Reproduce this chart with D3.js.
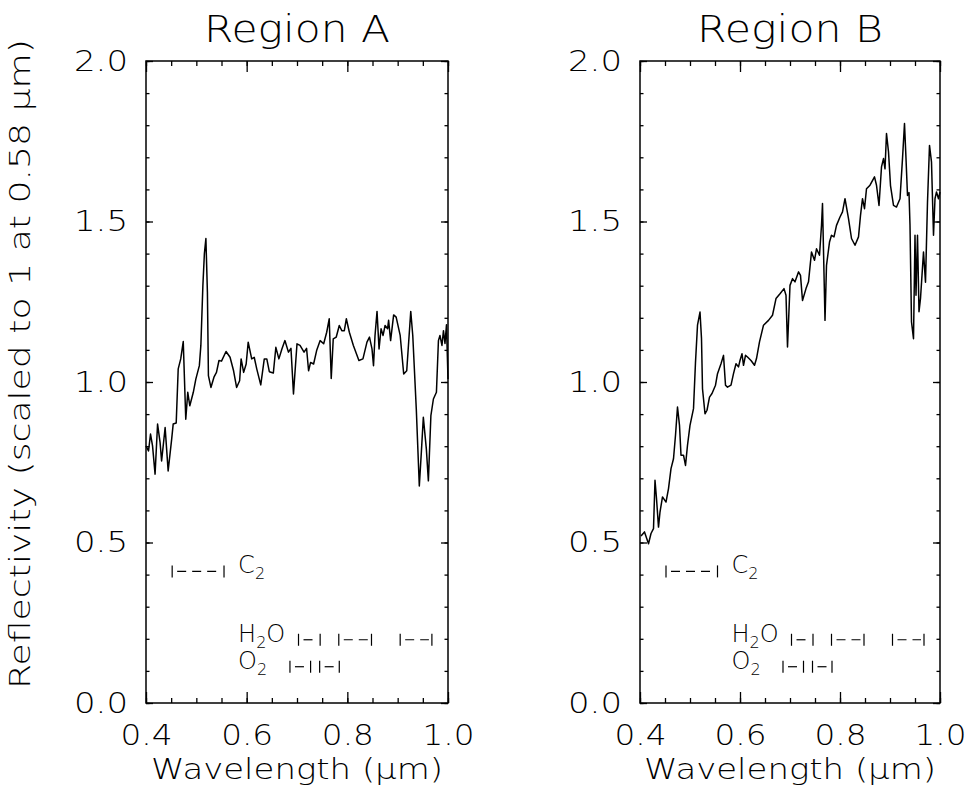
<!DOCTYPE html>
<html>
<head>
<meta charset="utf-8">
<script src="https://cdn.jsdelivr.net/npm/d3@7"></script>
<style>
  body { margin: 0; background: #fff; }
  svg text { font-family: "DejaVu Sans", sans-serif; font-weight: 200; fill: #000; }
</style>
</head>
<body>
<svg id="chart" width="976" height="810"></svg>
<script>
// spectra
const wavelengthA = [0.400,0.405,0.409,0.413,0.418,0.423,0.428,0.431,0.438,0.444,0.451,0.454,0.460,0.464,0.469,0.474,0.479,0.483,0.487,0.494,
  0.499,0.506,0.509,0.513,0.516,0.519,0.522,0.524,0.529,0.535,0.540,0.545,0.550,0.559,0.567,0.574,0.580,0.586,0.589,0.594,
  0.599,0.603,0.610,0.615,0.620,0.628,0.635,0.640,0.645,0.653,0.658,0.664,0.670,0.676,0.683,0.688,0.693,0.700,0.706,0.714,
  0.719,0.723,0.727,0.733,0.739,0.746,0.753,0.759,0.764,0.768,0.772,0.778,0.784,0.789,0.794,0.798,0.804,0.812,0.823,0.831,
  0.839,0.844,0.849,0.852,0.855,0.859,0.863,0.867,0.871,0.875,0.880,0.882,0.886,0.892,0.897,0.905,0.912,0.918,0.926,0.930,
  0.937,0.943,0.947,0.951,0.957,0.961,0.966,0.971,0.977,0.981,0.984,0.988,0.991,0.994,0.997,1.000];
const reflectA = [0.801,0.785,0.838,0.801,0.713,0.869,0.811,0.754,0.858,0.723,0.822,0.869,0.872,1.041,1.072,1.126,0.884,0.968,0.926,0.968,
  1.009,1.051,1.114,1.300,1.400,1.447,1.280,1.020,0.983,1.015,1.030,1.067,1.065,1.095,1.077,1.035,0.983,1.004,1.072,1.030,
  1.056,1.124,1.072,1.077,1.041,0.991,1.072,1.072,1.032,1.028,1.108,1.072,1.103,1.129,1.093,1.105,0.963,1.119,1.114,1.093,
  1.105,1.035,1.061,1.056,1.098,1.129,1.119,1.155,1.197,1.011,1.134,1.140,1.176,1.160,1.160,1.197,1.155,1.114,1.067,1.072,
  1.124,1.140,1.103,1.051,1.145,1.220,1.103,1.166,1.145,1.176,1.166,1.192,1.129,1.209,1.202,1.145,1.025,1.035,1.220,1.145,
  0.916,0.676,0.780,0.890,0.791,0.692,0.895,0.947,0.968,1.129,1.145,1.114,1.160,1.120,1.178,1.009];

const wavelengthB = [0.402,0.409,0.417,0.422,0.427,0.430,0.433,0.437,0.440,0.445,0.452,0.457,0.462,0.467,0.471,0.475,0.479,0.482,0.487,0.491,
  0.495,0.500,0.507,0.511,0.515,0.520,0.523,0.525,0.530,0.534,0.539,0.544,0.551,0.555,0.562,0.567,0.571,0.575,0.582,0.587,
  0.592,0.597,0.600,0.604,0.607,0.611,0.615,0.622,0.629,0.633,0.639,0.647,0.657,0.665,0.672,0.680,0.688,0.692,0.695,0.700,
  0.705,0.710,0.717,0.721,0.725,0.732,0.737,0.743,0.749,0.753,0.759,0.763,0.765,0.770,0.773,0.779,0.783,0.788,0.793,0.800,
  0.805,0.810,0.817,0.823,0.830,0.837,0.841,0.845,0.849,0.853,0.860,0.869,0.873,0.878,0.883,0.887,0.890,0.893,0.897,0.901,
  0.907,0.913,0.920,0.925,0.929,0.932,0.935,0.938,0.940,0.943,0.947,0.950,0.952,0.955,0.958,0.961,0.967,0.971,0.975,0.979,
  0.983,0.987,0.990,0.993,0.997,1.000];
const reflectB = [0.520,0.533,0.496,0.528,0.543,0.694,0.637,0.548,0.595,0.642,0.626,0.668,0.730,0.761,0.834,0.922,0.865,0.772,0.772,0.740,
  0.803,0.865,0.917,1.062,1.177,1.218,1.135,0.979,0.901,0.912,0.953,0.964,0.990,1.026,1.057,1.083,0.990,0.984,0.990,1.026,
  1.057,1.047,1.067,1.088,1.052,1.083,1.078,1.067,1.052,1.073,1.125,1.177,1.192,1.208,1.260,1.275,1.291,1.270,1.109,1.301,
  1.322,1.312,1.343,1.332,1.254,1.291,1.312,1.405,1.379,1.415,1.395,1.488,1.556,1.192,1.363,1.436,1.457,1.452,1.488,1.514,
  1.530,1.571,1.509,1.447,1.426,1.452,1.519,1.571,1.540,1.602,1.613,1.639,1.613,1.550,1.670,1.696,1.664,1.774,1.717,1.612,
  1.550,1.545,1.571,1.696,1.805,1.696,1.581,1.590,1.488,1.187,1.135,1.457,1.270,1.457,1.219,1.260,1.405,1.311,1.561,1.737,
  1.685,1.457,1.571,1.592,1.571,1.592];

const panelTitles = ["Region A", "Region B"];
const xTicks = [0.4, 0.6, 0.8, 1.0];
const yTicks = [0.0, 0.5, 1.0, 1.5, 2.0];

// absorption band markers: [start, end] in micron, plus level on the y scale
const c2Bands = [[0.452, 0.555]];
const h2oBands = [[0.703, 0.746], [0.783, 0.848], [0.905, 0.968]];
const o2Bands = [[0.686, 0.727], [0.745, 0.784]];
const bandLevels = {c2: 0.41, h2o: 0.197, o2: 0.113};
const bandLabelX = 0.583;

const svg = d3.select("#chart");
const plotTop = 61, plotBottom = 703;

function drawPanel(left, right, wl, refl, title) {
  const x = d3.scaleLinear().domain([0.4, 1.0]).range([left, right]);
  const y = d3.scaleLinear().domain([0, 2]).range([plotBottom, plotTop]);
  const g = svg.append("g");

  // frame
  g.append("rect")
    .attr("x", left).attr("y", plotTop)
    .attr("width", right - left).attr("height", plotBottom - plotTop)
    .attr("fill", "none").attr("stroke", "#000").attr("stroke-width", 1.5);

  // inward ticks on all four sides
  const xMinor = d3.range(0.4, 1.0001, 0.05);
  const yMinor = d3.range(0, 2.0001, 0.1);
  const tickAxes = [
    [d3.axisTop(x).tickValues(xMinor).tickSize(5), `translate(0,${plotBottom})`],
    [d3.axisTop(x).tickValues(xTicks).tickSize(11), `translate(0,${plotBottom})`],
    [d3.axisBottom(x).tickValues(xMinor).tickSize(5), `translate(0,${plotTop})`],
    [d3.axisBottom(x).tickValues(xTicks).tickSize(11), `translate(0,${plotTop})`],
    [d3.axisRight(y).tickValues(yMinor).tickSize(3.5), `translate(${left},0)`],
    [d3.axisRight(y).tickValues(yTicks).tickSize(7), `translate(${left},0)`],
    [d3.axisLeft(y).tickValues(yMinor).tickSize(3.5), `translate(${right},0)`],
    [d3.axisLeft(y).tickValues(yTicks).tickSize(7), `translate(${right},0)`]
  ];
  tickAxes.forEach(([ax, tr]) => {
    const a = g.append("g").attr("transform", tr).call(ax.tickFormat(""));
    a.select(".domain").remove();
    a.selectAll("line").attr("stroke", "#000").attr("stroke-width", 1.3);
  });

  // tick labels
  const yl = g.append("g").attr("transform", `translate(${left},0)`)
    .call(d3.axisLeft(y).tickValues(yTicks).tickSize(0).tickPadding(18).tickFormat(d3.format(".1f")));
  yl.select(".domain").remove();
  yl.selectAll("text").attr("font-size", 29).attr("font-family", null)
    .attr("textLength", 54).attr("lengthAdjust", "spacingAndGlyphs");

  const xl = g.append("g").attr("transform", `translate(0,${plotBottom})`)
    .call(d3.axisBottom(x).tickValues(xTicks).tickSize(0).tickPadding(21).tickFormat(d3.format(".1f")));
  xl.select(".domain").remove();
  xl.selectAll("text").attr("font-size", 29).attr("font-family", null)
    .attr("textLength", 52).attr("lengthAdjust", "spacingAndGlyphs");

  // title
  g.append("text")
    .attr("x", (left + right) / 2).attr("y", 42)
    .attr("text-anchor", "middle").attr("font-size", 37)
    .attr("textLength", 186).attr("lengthAdjust", "spacingAndGlyphs")
    .text(title);

  // x axis title
  g.append("text")
    .attr("x", (left + right) / 2).attr("y", 779)
    .attr("text-anchor", "middle").attr("font-size", 28)
    .attr("textLength", 292).attr("lengthAdjust", "spacingAndGlyphs")
    .text("Wavelength (\u03bcm)");

  // spectrum
  const line = d3.line().x((d, i) => x(wl[i])).y(d => y(d));
  g.append("path").datum(refl)
    .attr("d", line)
    .attr("fill", "none").attr("stroke", "#000")
    .attr("stroke-width", 1.5).attr("stroke-linejoin", "round");

  // band markers
  function bands(list, level) {
    list.forEach(([a, b]) => {
      g.append("line")
        .attr("x1", x(a) + 5).attr("x2", x(b) - 3)
        .attr("y1", y(level)).attr("y2", y(level))
        .attr("stroke", "#000").attr("stroke-width", 1.2)
        .attr("stroke-dasharray", "9,6");
      [a, b].forEach(v => {
        g.append("line")
          .attr("x1", x(v)).attr("x2", x(v))
          .attr("y1", y(level) - 6).attr("y2", y(level) + 6)
          .attr("stroke", "#000").attr("stroke-width", 1.2);
      });
    });
  }
  bands(c2Bands, bandLevels.c2);
  bands(h2oBands, bandLevels.h2o);
  bands(o2Bands, bandLevels.o2);

  function molecule(parts, level) {
    const t = g.append("text")
      .attr("x", x(bandLabelX)).attr("y", y(level) + 8)
      .attr("font-size", 24);
    parts.forEach(([s, sub]) => {
      if (sub) {
        t.append("tspan").attr("font-size", 16).attr("dy", 6).text(s);
      } else {
        t.append("tspan").attr("dy", t.selectAll("tspan").size() ? -6 : 0).text(s);
      }
    });
  }
  molecule([["C"], ["2", true]], bandLevels.c2);
  molecule([["H"], ["2", true], ["O"]], bandLevels.h2o);
  molecule([["O"], ["2", true]], bandLevels.o2);
}

drawPanel(146, 448, wavelengthA, reflectA, panelTitles[0]);
drawPanel(640, 940, wavelengthB, reflectB, panelTitles[1]);

// shared y axis title
svg.append("text")
  .attr("transform", "translate(30,364) rotate(-90)")
  .attr("text-anchor", "middle").attr("font-size", 28)
  .attr("textLength", 650).attr("lengthAdjust", "spacingAndGlyphs")
  .text("Reflectivity (scaled to 1 at 0.58 \u03bcm)");
</script>
</body>
</html>
